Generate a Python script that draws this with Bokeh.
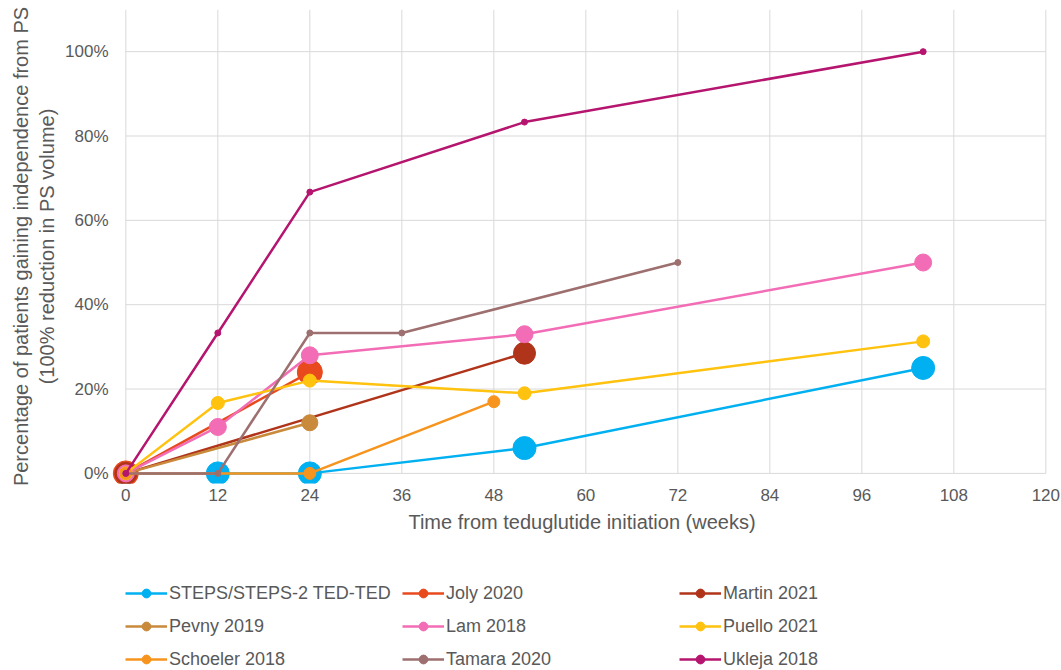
from bokeh.plotting import figure
from bokeh.layouts import column
from bokeh.models import Range1d, FixedTicker, Legend, LegendItem
from bokeh.embed import file_html
from bokeh.resources import INLINE

# ---- data ----
x_ticks = [0, 12, 24, 36, 48, 60, 72, 84, 96, 108, 120]
x_tick_labels = ["0", "12", "24", "36", "48", "60", "72", "84", "96", "108", "120"]
y_ticks = [0, 20, 40, 60, 80, 100]
y_tick_labels = ["0%", "20%", "40%", "60%", "80%", "100%"]

series_names = ["STEPS/STEPS-2 TED-TED", "Joly 2020", "Martin 2021", "Pevny 2019",
                "Lam 2018", "Puello 2021", "Schoeler 2018", "Tamara 2020", "Ukleja 2018"]

steps_x = [0, 12, 24, 52, 104]
steps_y = [0, 0, 0, 6, 25]
joly_x = [0, 24]
joly_y = [0, 24]
martin_x = [0, 52]
martin_y = [0, 28.5]
pevny_x = [0, 24]
pevny_y = [0, 12]
lam_x = [0, 12, 24, 52, 104]
lam_y = [0, 11, 28, 33, 50]
puello_x = [0, 12, 24, 52, 104]
puello_y = [0, 16.7, 22, 19, 31.3]
schoeler_x = [0, 24, 48]
schoeler_y = [0, 0, 17]
tamara_x = [0, 12, 24, 36, 72]
tamara_y = [0, 0, 33.3, 33.3, 50]
ukleja_x = [0, 12, 24, 52, 104]
ukleja_y = [0, 33.3, 66.7, 83.3, 100]

# ---- styles ----
colors = ["#00B0F0", "#E84A1E", "#B0341A", "#C98A3C", "#F26DB5",
          "#FFC20E", "#F7941D", "#9E6F6F", "#B5156E"]
marker_sizes = [23, 25, 22, 16, 17, 13, 12, 6, 6]
FONT = "Liberation Sans"
TXT = "#595959"
GRID = "#d9d9d9"

p = figure(frame_width=943, frame_height=474,
           x_range=Range1d(-2, 121), y_range=Range1d(-2.4, 110),
           output_backend="svg", toolbar_location=None,
           min_border_left=110, min_border_right=8, min_border_top=9, min_border_bottom=60,
           background_fill_color="white", border_fill_color="white")
p.outline_line_color = None
p.xgrid.visible = False
p.ygrid.visible = False

# grid lines derived from tick lists
p.segment(x0=x_ticks, y0=[y_ticks[0]] * len(x_ticks), x1=x_ticks, y1=[110] * len(x_ticks),
          line_color=GRID, line_width=1)
p.segment(x0=[x_ticks[0]] * len(y_ticks), y0=y_ticks, x1=[x_ticks[-1]] * len(y_ticks), y1=y_ticks,
          line_color=GRID, line_width=1)

xs = [steps_x, joly_x, martin_x, pevny_x, lam_x, puello_x, schoeler_x, tamara_x, ukleja_x]
ys = [steps_y, joly_y, martin_y, pevny_y, lam_y, puello_y, schoeler_y, tamara_y, ukleja_y]

for x, y, c, s in zip(xs, ys, colors, marker_sizes):
    p.line(x, y, line_color=c, line_width=2.5)
    p.scatter(x, y, size=s, fill_color=c, line_color=c, line_width=1)

# axes
p.xaxis.ticker = FixedTicker(ticks=x_ticks)
p.xaxis.major_label_overrides = dict(zip(x_ticks, x_tick_labels))
p.yaxis.ticker = FixedTicker(ticks=y_ticks)
p.yaxis.major_label_overrides = dict(zip(y_ticks, y_tick_labels))
for ax in (p.xaxis, p.yaxis):
    ax.axis_line_color = None
    ax.major_tick_line_color = None
    ax.minor_tick_line_color = None
    ax.major_tick_out = 0
    ax.major_tick_in = 0
    ax.major_label_text_font = FONT
    ax.major_label_text_font_size = "17px"
    ax.major_label_text_color = TXT
    ax.axis_label_text_font = FONT
    ax.axis_label_text_font_size = "20px"
    ax.axis_label_text_font_style = "normal"
    ax.axis_label_text_color = TXT

p.xaxis.axis_label = "Time from teduglutide initiation (weeks)"
p.xaxis.major_label_standoff = 5
p.xaxis.axis_label_standoff = 7
p.yaxis.axis_label = "Percentage of patients gaining independence from PS\n(100% reduction in PS volume)"
p.yaxis.major_label_standoff = 2
p.yaxis.axis_label_standoff = 4

# ---- legend strip (separate canvas below the chart) ----
# its ranges lie far from the data so the key renderers themselves stay out of view
lf = figure(width=1061, height=127, x_range=Range1d(1000, 1001), y_range=Range1d(1000, 1001),
            x_axis_type=None, y_axis_type=None,
            output_backend="svg", toolbar_location=None,
            min_border_left=0, min_border_right=0, min_border_top=0, min_border_bottom=0,
            background_fill_color="white", border_fill_color="white")
lf.outline_line_color = None

items = []
for name, x, y, c in zip(series_names, xs, ys, colors):
    lr = lf.line(x, y, line_color=c, line_width=2.5)
    sr = lf.scatter(x, y, fill_color=c, line_color=c, line_width=1)
    items.append(LegendItem(label=name, renderers=[lr, sr]))

legend = Legend(items=items, ncols=3, orientation="horizontal", location=(15, 0),
                padding=0, margin=0, spacing=11,
                glyph_width=42, glyph_height=22, label_height=22, label_width=222,
                label_standoff=2,
                label_text_font=FONT, label_text_font_size="18px", label_text_color=TXT,
                background_fill_alpha=0, border_line_color=None)
lf.add_layout(legend, "center")

layout = column(p, lf, spacing=0)
open("out.html", "w").write(file_html(layout, INLINE))
